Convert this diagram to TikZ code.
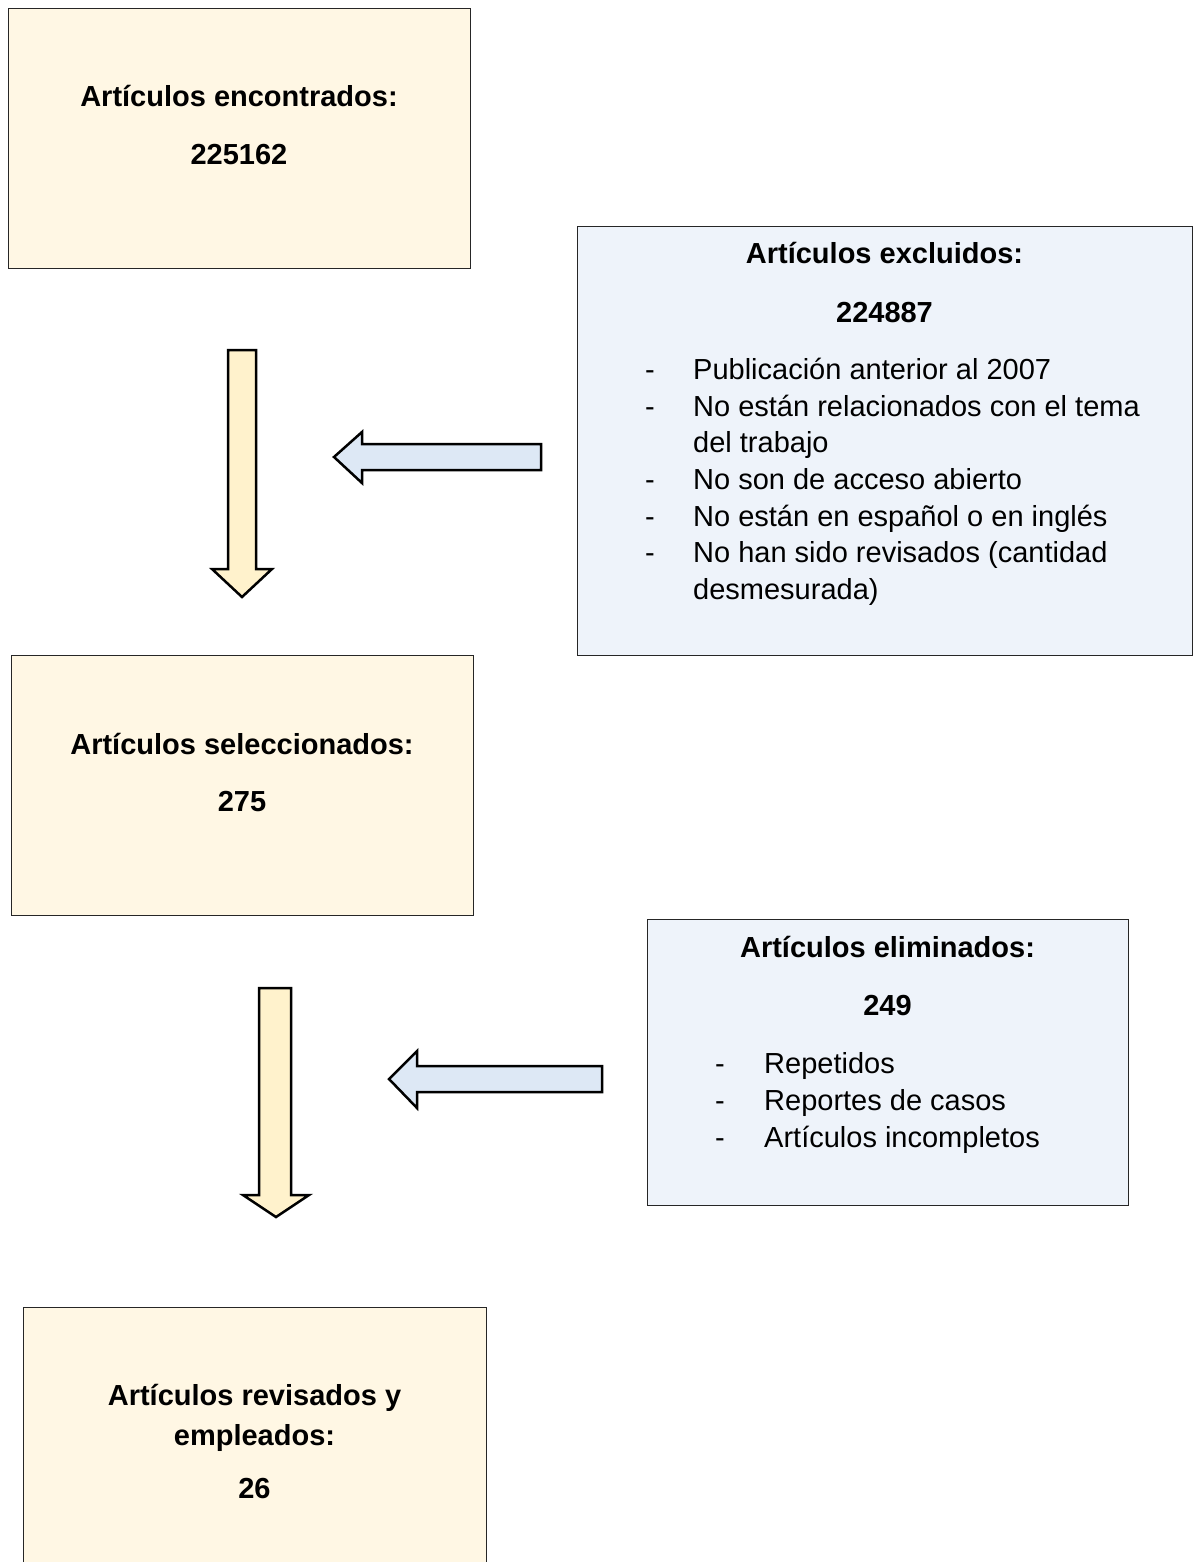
\documentclass[tikz,border=0pt]{standalone}
\usepackage{fontspec}
\setmainfont{Liberation Sans}
\definecolor{boxcream}{HTML}{FFF7E4}
\definecolor{boxblue}{HTML}{EEF3FA}
\definecolor{arryellow}{HTML}{FFF2CC}
\definecolor{arrblue}{HTML}{DDE8F5}
\tikzset{
  cbox/.style={draw=black!85, line width=1.2pt, fill=boxcream, anchor=north west, inner sep=0pt},
  bbox/.style={draw=black!85, line width=1.2pt, fill=boxblue, anchor=north west, inner sep=0pt},
  ttl/.style={font=\fontsize{29}{35}\selectfont\bfseries, anchor=base, inner sep=0pt},
  bodyt/.style={font=\fontsize{29}{35}\selectfont, anchor=base west, inner sep=0pt},
  dasht/.style={font=\fontsize{29}{35}\selectfont, anchor=base, inner sep=0pt},
  yarrow/.style={draw=black, line width=2.5pt, fill=arryellow, line join=miter},
  barrow/.style={draw=black, line width=2.5pt, fill=arrblue, line join=miter}
}
\begin{document}
\begin{tikzpicture}[x=1pt,y=-1pt]
\useasboundingbox (0,0) rectangle (1194,1562);
\clip (0,0) rectangle (1194,1562);
% boxes
\node[cbox, minimum width=462pt, minimum height=260pt] (b1) at (8,8) {};
\node[bbox, minimum width=615pt, minimum height=429pt] (b2) at (577,226) {};
\node[cbox, minimum width=462pt, minimum height=260pt] (b3) at (11,655) {};
\node[bbox, minimum width=481pt, minimum height=286pt] (b4) at (647,919) {};
\node[cbox, minimum width=463pt, minimum height=300pt] (b5) at (23,1307) {};
% box 1
\node[ttl] (t1) at (239,107) {Artículos encontrados:};
\node[ttl] (n1) at (239,165) {225162};
% box 2
\node[ttl] (t2) at (884.5,263) {Artículos excluidos:};
\node[ttl] (n2) at (884.5,322) {224887};
\node[dasht] (d21) at (650,379) {-};
\node[bodyt] (l21) at (693,379) {Publicación anterior al 2007};
\node[dasht] (d22) at (650,416) {-};
\node[bodyt] (l22) at (693,416) {No están relacionados con el tema};
\node[bodyt] (l22b) at (693,452.5) {del trabajo};
\node[dasht] (d23) at (650,489) {-};
\node[bodyt] (l23) at (693,489) {No son de acceso abierto};
\node[dasht] (d24) at (650,526) {-};
\node[bodyt] (l24) at (693,526) {No están en español o en inglés};
\node[dasht] (d25) at (650,562.5) {-};
\node[bodyt] (l25) at (693,562.5) {No han sido revisados (cantidad};
\node[bodyt] (l25b) at (693,599) {desmesurada)};
% box 3
\node[ttl] (t3) at (242,754) {Artículos seleccionados:};
\node[ttl] (n3) at (242,811) {275};
% box 4
\node[ttl] (t4) at (887.5,957) {Artículos eliminados:};
\node[ttl] (n4) at (887.5,1015) {249};
\node[dasht] (d41) at (720,1073) {-};
\node[bodyt] (l41) at (764,1073) {Repetidos};
\node[dasht] (d42) at (720,1110) {-};
\node[bodyt] (l42) at (764,1110) {Reportes de casos};
\node[dasht] (d43) at (720,1147) {-};
\node[bodyt] (l43) at (764,1147) {Artículos incompletos};
% box 5
\node[ttl] (t5) at (254.5,1405) {Artículos revisados y};
\node[ttl] (t5b) at (254.5,1445) {empleados:};
\node[ttl] (n5) at (254.5,1498) {26};
% block arrows
\draw[yarrow] (228,350) -- (256,350) -- (256,569) -- (272,569) -- (242,597) -- (212,569) -- (228,569) -- cycle;
\draw[barrow] (541,444) -- (362,444) -- (362,432) -- (334,457) -- (362,483) -- (362,470) -- (541,470) -- cycle;
\draw[yarrow] (259,988) -- (291,988) -- (291,1195) -- (309,1195) -- (276,1217) -- (243,1195) -- (259,1195) -- cycle;
\draw[barrow] (602,1066) -- (417,1066) -- (417,1051) -- (389,1079) -- (417,1108) -- (417,1092) -- (602,1092) -- cycle;
\end{tikzpicture}
\end{document}
